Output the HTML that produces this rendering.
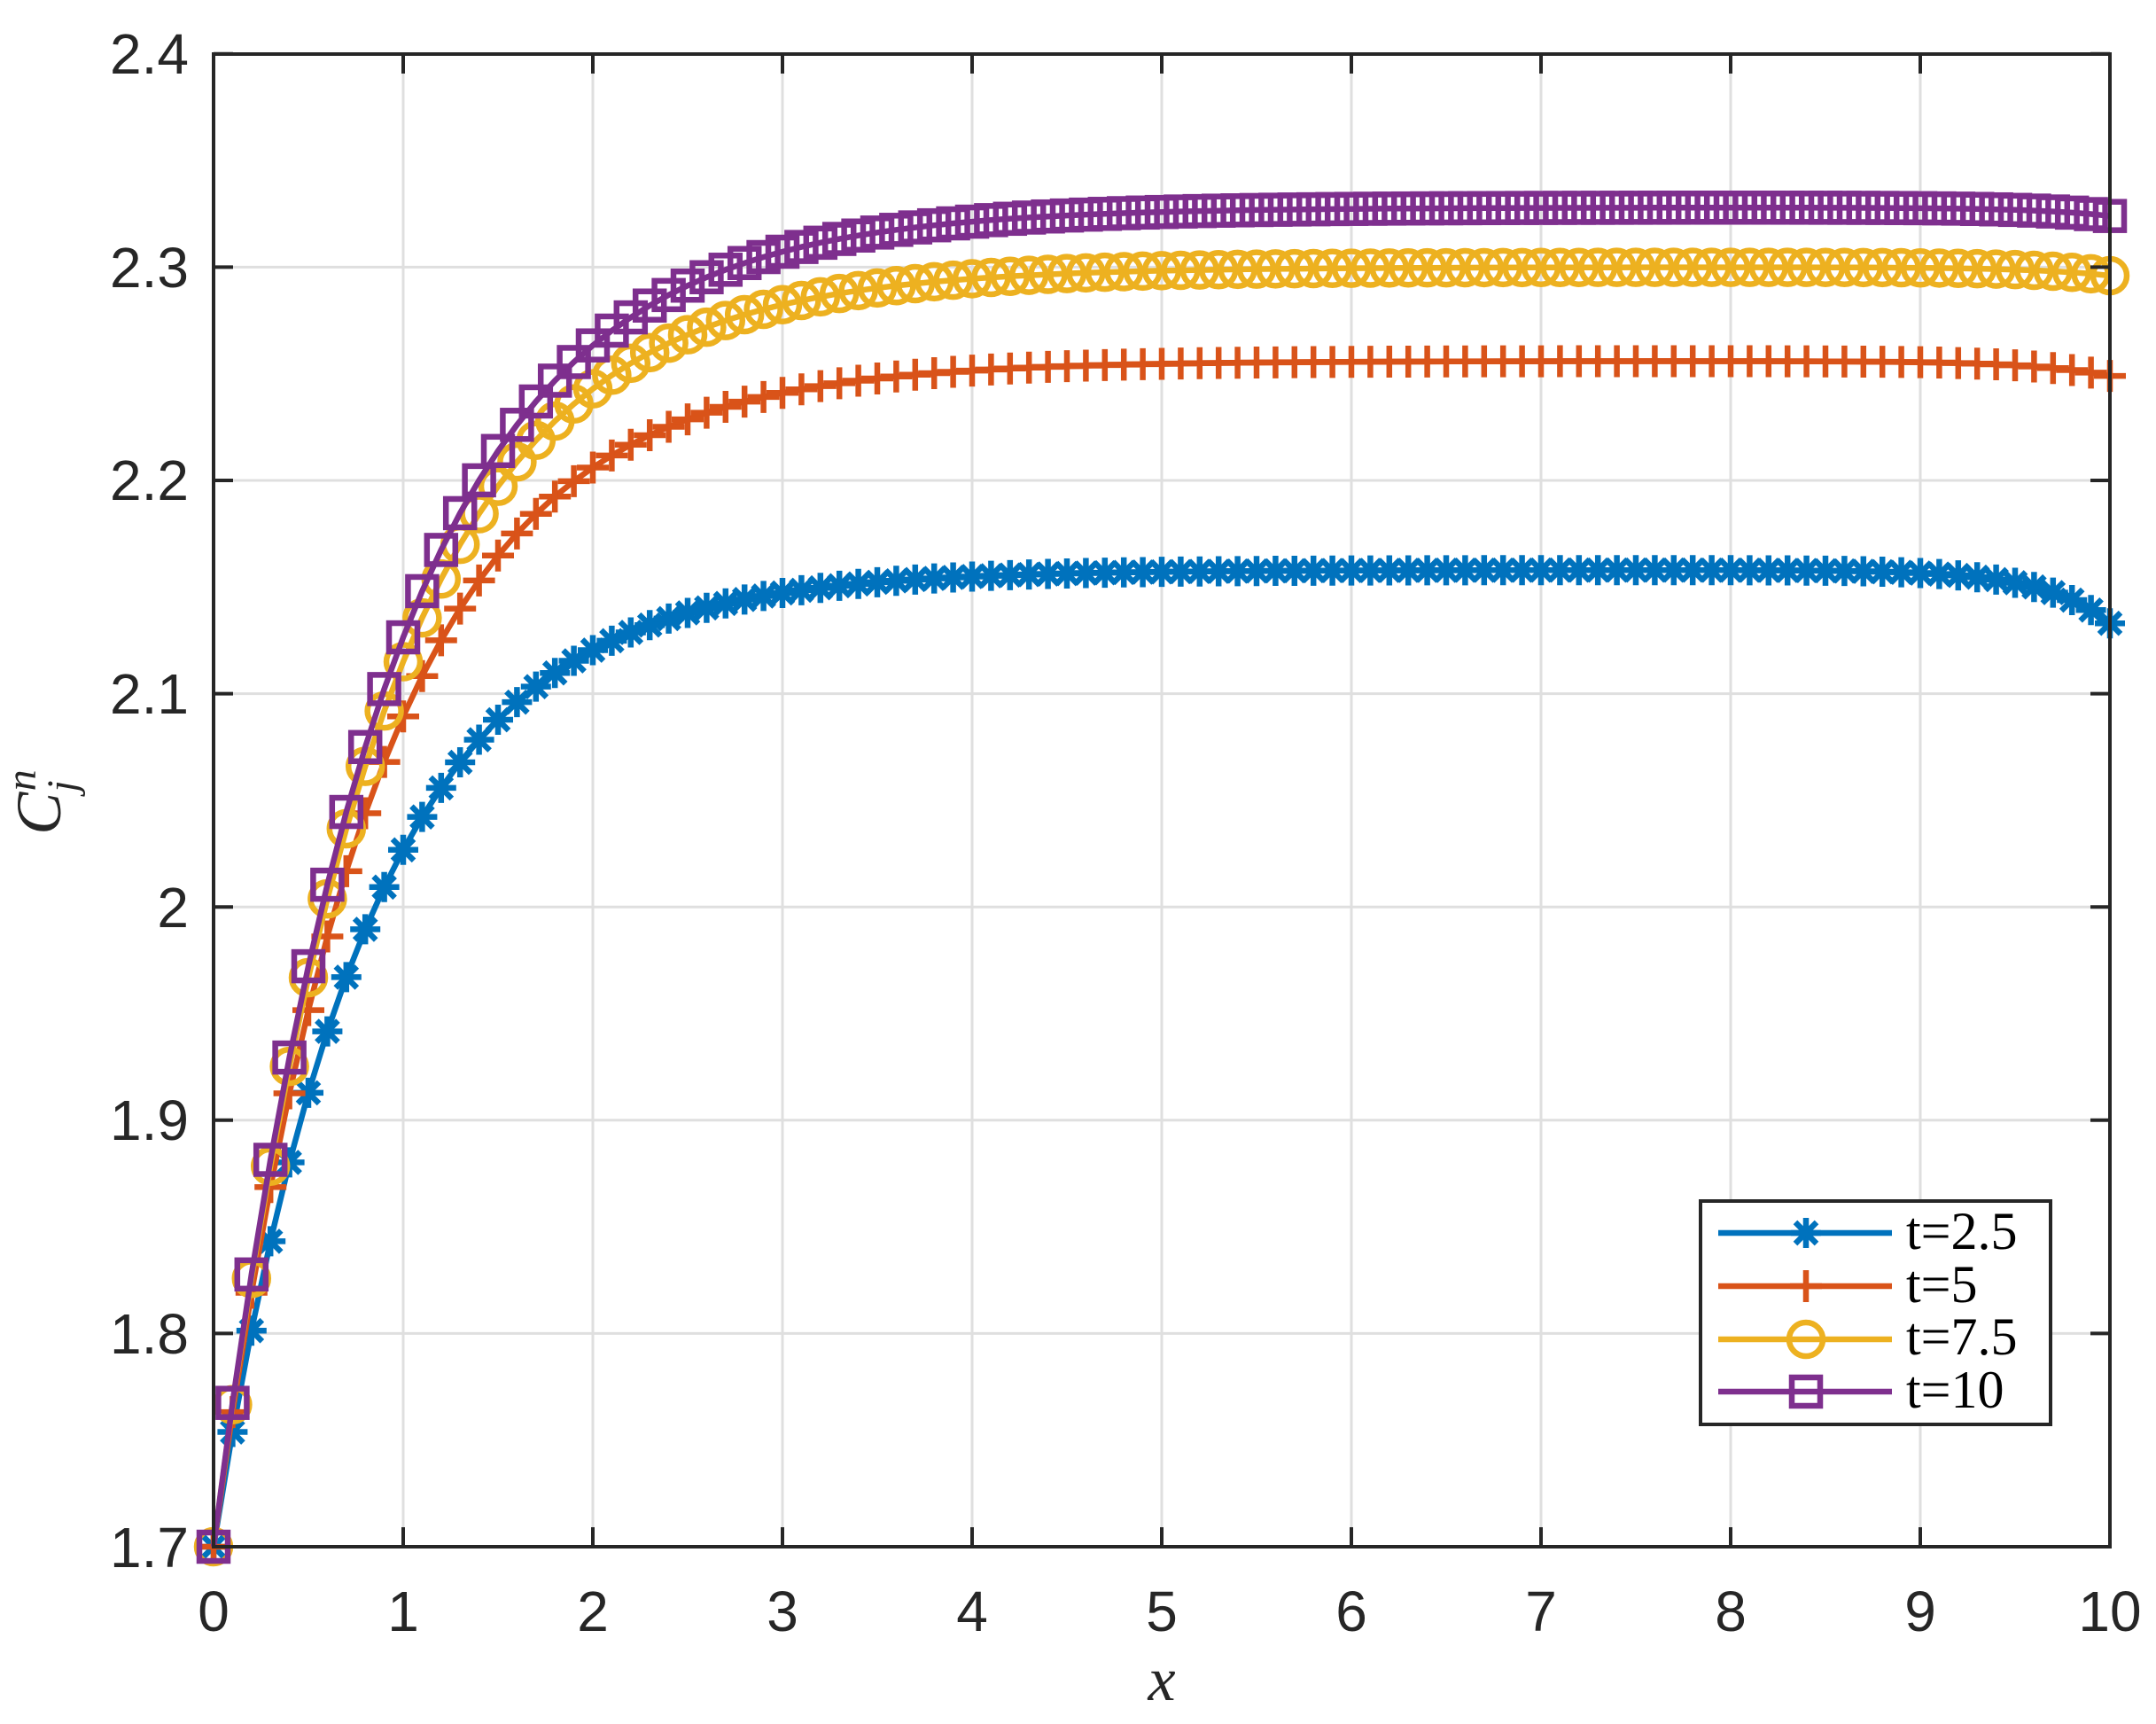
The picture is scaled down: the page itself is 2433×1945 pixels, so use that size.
<!DOCTYPE html>
<html><head><meta charset="utf-8"><style>
html,body{margin:0;padding:0;background:#fff;}
svg{display:block;}
.tk{font-family:"Liberation Sans",Arial,sans-serif;font-size:64px;fill:#262626;}
.lg{font-family:"Liberation Serif",serif;font-size:60px;fill:#000;}
</style></head><body>
<svg id="s" width="2433" height="1945" viewBox="0 0 2433 1945" xmlns="http://www.w3.org/2000/svg">
<rect width="2433" height="1945" fill="#fff"/>
<g id="grid" stroke="#dfdfdf" stroke-width="3"></g>
<g id="data"></g>
<g id="axes" stroke="#262626" stroke-width="4" fill="none">
<rect x="241" y="61" width="2140" height="1684"/>
</g>
<g id="ticks" stroke="#262626" stroke-width="4"></g>
<g id="labels">
<text class="tk" x="241" y="1840" text-anchor="middle">0</text>
<text class="tk" x="455" y="1840" text-anchor="middle">1</text>
<text class="tk" x="669" y="1840" text-anchor="middle">2</text>
<text class="tk" x="883" y="1840" text-anchor="middle">3</text>
<text class="tk" x="1097" y="1840" text-anchor="middle">4</text>
<text class="tk" x="1311" y="1840" text-anchor="middle">5</text>
<text class="tk" x="1525" y="1840" text-anchor="middle">6</text>
<text class="tk" x="1739" y="1840" text-anchor="middle">7</text>
<text class="tk" x="1953" y="1840" text-anchor="middle">8</text>
<text class="tk" x="2167" y="1840" text-anchor="middle">9</text>
<text class="tk" x="2381" y="1840" text-anchor="middle">10</text>
<text class="tk" x="213" y="1768" text-anchor="end">1.7</text>
<text class="tk" x="213" y="1527" text-anchor="end">1.8</text>
<text class="tk" x="213" y="1286" text-anchor="end">1.9</text>
<text class="tk" x="213" y="1046" text-anchor="end">2</text>
<text class="tk" x="213" y="805" text-anchor="end">2.1</text>
<text class="tk" x="213" y="564" text-anchor="end">2.2</text>
<text class="tk" x="213" y="324" text-anchor="end">2.3</text>
<text class="tk" x="213" y="83" text-anchor="end">2.4</text>
<text x="1311" y="1918" text-anchor="middle" font-family="Liberation Serif,serif" font-style="italic" font-size="70" fill="#262626">x</text>
<text transform="translate(68,905) rotate(-90)" text-anchor="middle" font-family="Liberation Serif,serif" font-style="italic" font-size="72" fill="#262626">C<tspan font-size="48" dy="18">j</tspan><tspan font-size="48" dx="-12" dy="-46">n</tspan></text>
</g>
<g id="legend">
<rect x="1919" y="1355" width="395" height="252" fill="#fff" stroke="#262626" stroke-width="4"/>
<text class="lg" x="2151" y="1409">t=2.5</text>
<text class="lg" x="2151" y="1469">t=5</text>
<text class="lg" x="2151" y="1528">t=7.5</text>
<text class="lg" x="2151" y="1588">t=10</text>
</g>
</svg>
<script>
var NS="http://www.w3.org/2000/svg";
function el(p,n,a){var e=document.createElementNS(NS,n);for(var k in a)e.setAttribute(k,a[k]);p.appendChild(e);return e;}
function X(x){return 241+214*x;}
function Y(v){return 1745-(v-1.7)/0.1*240.6;}
var g=document.getElementById('grid'),t=document.getElementById('ticks');
for(var i=1;i<10;i++){el(g,'line',{x1:X(i),y1:61,x2:X(i),y2:1745});}
for(var j=1;j<7;j++){var yy=Y(1.7+j*0.1);el(g,'line',{x1:241,y1:yy,x2:2381,y2:yy});}
for(var i=0;i<=10;i++){el(t,'line',{x1:X(i),y1:1745,x2:X(i),y2:1723});el(t,'line',{x1:X(i),y1:61,x2:X(i),y2:83});}
for(var j=0;j<=7;j++){var yy=Y(1.7+j*0.1);el(t,'line',{x1:241,y1:yy,x2:263,y2:yy});el(t,'line',{x1:2381,y1:yy,x2:2359,y2:yy});}
var series=[
 {c:'#0072BD',P:2.158,tau:0.8,drop:0.025,dt:0.35,m:'ast'},
 {c:'#D95319',P:2.256,tau:0.83,drop:0.007,dt:0.4,m:'plus'},
 {c:'#EDB120',P:2.300,tau:0.85,drop:0.004,dt:0.4,m:'circ'},
 {c:'#7E2F8E',P:2.328,tau:0.88,drop:0.004,dt:0.4,m:'sq'}];
var SW=6.5;
function marker(p,m,x,y,c){
 if(m=='ast'){var r=17;for(var a=0;a<4;a++){var an=a*Math.PI/4+Math.PI/2;el(p,'line',{x1:x-r*Math.cos(an),y1:y-r*Math.sin(an),x2:x+r*Math.cos(an),y2:y+r*Math.sin(an),stroke:c,'stroke-width':SW});}}
 else if(m=='plus'){var r=18;el(p,'line',{x1:x-r,y1:y,x2:x+r,y2:y,stroke:c,'stroke-width':SW});el(p,'line',{x1:x,y1:y-r,x2:x,y2:y+r,stroke:c,'stroke-width':SW});}
 else if(m=='circ'){el(p,'circle',{cx:x,cy:y,r:19,fill:'none',stroke:c,'stroke-width':SW});}
 else {el(p,'rect',{x:x-16,y:y-16,width:32,height:32,fill:'none',stroke:c,'stroke-width':SW});}
}
var d=document.getElementById('data');
series.forEach(function(s){
 var pts=[];
 for(var i=0;i<=100;i++){var x=i/10;var v=1.7+(s.P-1.7)*(1-Math.exp(-x/s.tau))-s.drop*Math.exp((x-10)/s.dt);pts.push([X(x),Y(v)]);}
 var gg=el(d,'g',{});
 el(gg,'polyline',{points:pts.map(function(p){return p[0].toFixed(1)+','+p[1].toFixed(1);}).join(' '),fill:'none',stroke:s.c,'stroke-width':SW,'stroke-linejoin':'round'});
 pts.forEach(function(p){marker(gg,s.m,p[0],p[1],s.c);});
});
var lg=document.getElementById('legend');
var rows=[1391,1451,1511,1570];
series.forEach(function(s,i){el(lg,'line',{x1:1939,y1:rows[i],x2:2135,y2:rows[i],stroke:s.c,'stroke-width':SW});marker(lg,s.m,2038,rows[i],s.c);});
</script>
</body></html>
